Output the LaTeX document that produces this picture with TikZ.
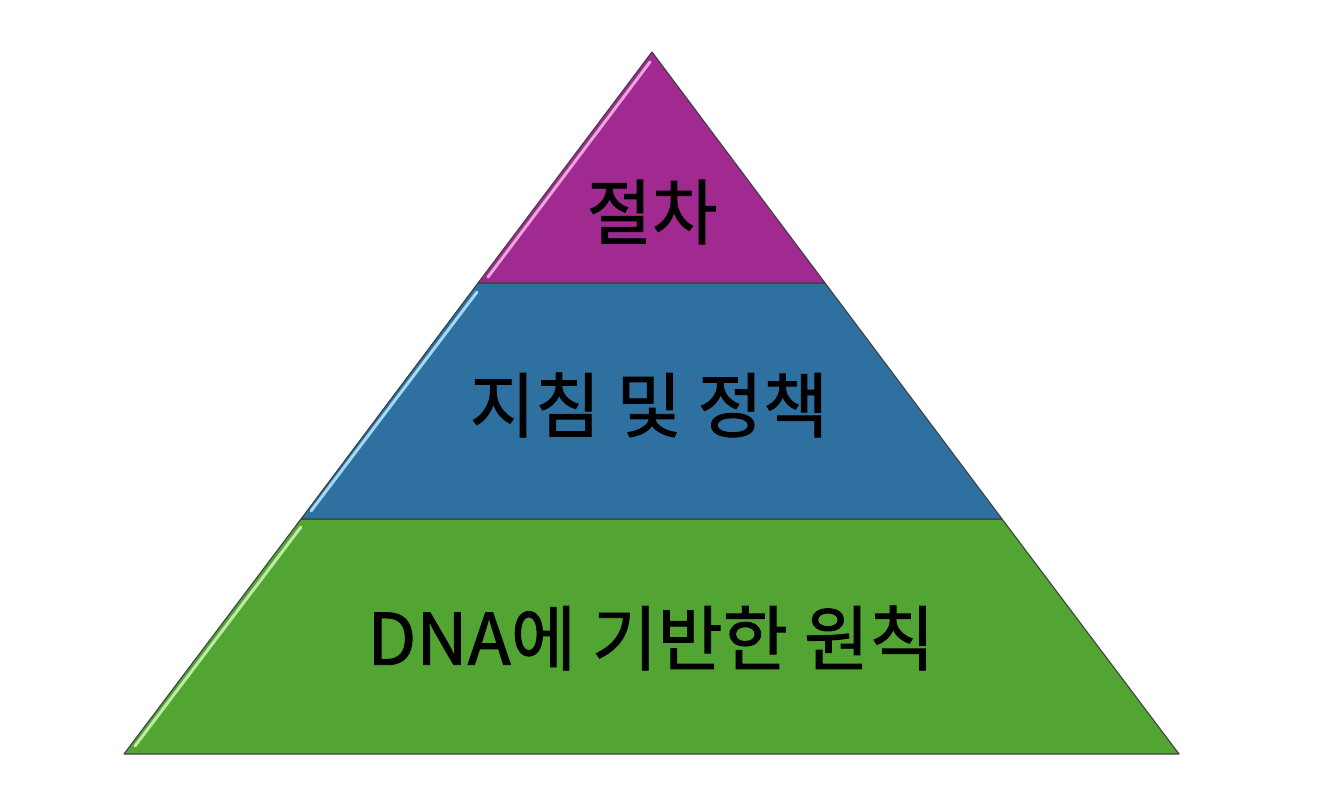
\documentclass[tikz,border=0pt]{standalone}
\usepackage{fontspec}
\newfontfamily\kr[FakeBold=1.3]{Noto Sans CJK KR}
\definecolor{lvltop}{HTML}{A02A90}
\definecolor{lvlmid}{HTML}{2E70A0}
\definecolor{lvlbot}{HTML}{52A532}
\definecolor{hltop}{HTML}{E7A6DC}
\definecolor{hlmid}{HTML}{A6D8F4}
\definecolor{hlbot}{HTML}{BDEBA6}
\begin{document}
\begin{tikzpicture}[x=1pt,y=-1pt,
  layer/.style={draw=black!75, line width=1.1pt, line join=round},
  gloss/.style={line width=3pt, line cap=round},
  lbl/.style={font=\kr\fontsize{71}{76}\selectfont, text=black, inner sep=0pt}]
\fill[white] (0,0) rectangle (1328,800);
\useasboundingbox (0,0) rectangle (1328,800);
% levels
\coordinate (apex) at (652,52);
\coordinate (l1) at (478,283); \coordinate (r1) at (825,283);
\coordinate (l2) at (301,519); \coordinate (r2) at (1002,519);
\coordinate (l3) at (124,754); \coordinate (r3) at (1179,754);
\filldraw[layer, fill=lvlbot] (l2) -- (r2) -- (r3) -- (l3) -- cycle;
\filldraw[layer, fill=lvlmid] (l1) -- (r1) -- (r2) -- (l2) -- cycle;
\filldraw[layer, fill=lvltop] (apex) -- (r1) -- (l1) -- cycle;
% gloss highlights
\draw[gloss, hltop] (650,62) -- (488,277);
\draw[gloss, hlmid] (477,292) -- (311,511);
\draw[gloss, hlbot] (301,527) -- (135,746);
% labels
\node[lbl] (t1) at (652,212) {절차};
\node[lbl] (t2) at (649,405) {지침 및 정책};
\node[lbl] (t3) at (651,638) {DNA에 기반한 원칙};
\end{tikzpicture}
\end{document}
